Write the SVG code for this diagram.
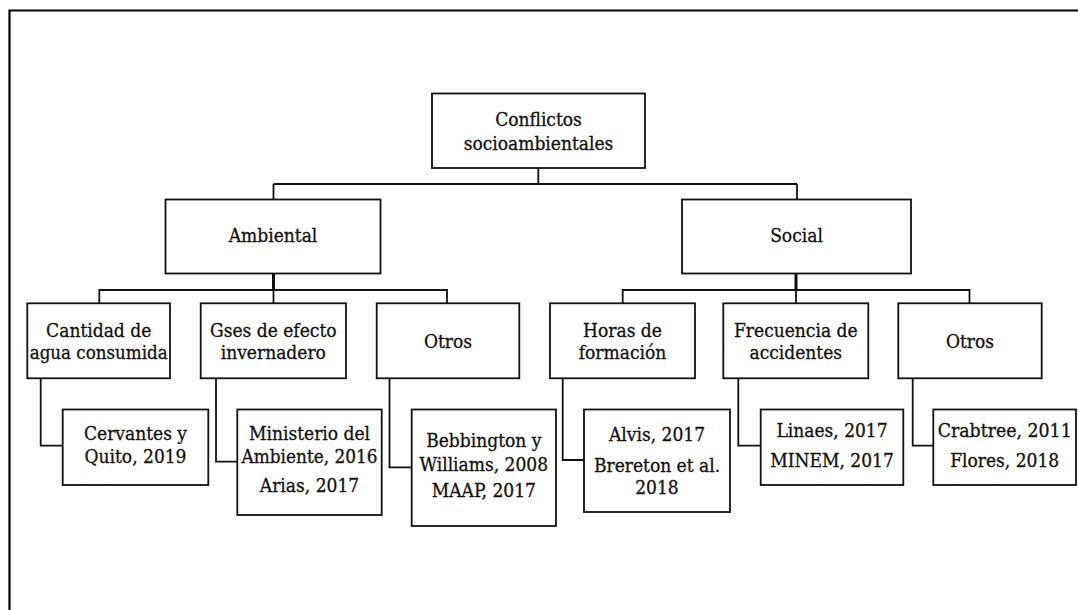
<svg xmlns="http://www.w3.org/2000/svg" width="1078" height="610" viewBox="0 0 1078 610">
  <style>
    .box { fill: #ffffff; stroke: #111111; stroke-width: 1.8; }
    .lbl { font-family: "DejaVu Serif Condensed", "DejaVu Serif", serif; font-stretch: condensed; font-size: 19px; fill: #111111; stroke: #111111; stroke-width: 0.3; text-anchor: middle; }
    .wire { fill: none; stroke: #111111; stroke-width: 1.8; }
    .trunk { fill: none; stroke: #111111; stroke-width: 3; }
    .frame { fill: none; stroke: #000000; stroke-width: 2.2; }
  </style>

  <rect width="1078" height="610" fill="#ffffff"/>

  <!-- outer page frame -->
  <path class="frame" d="M9.5,612 V10.5 H1080"/>

  <!-- connectors -->
  <g id="connectors">
    <!-- root to first level -->
    <path class="wire" d="M538.3,168 V184 M273.5,184 H797 M273.5,184 V199 M797,184 V199"/>
    <!-- Ambiental branch -->
    <path class="trunk" d="M273.5,273 V290"/>
    <path class="wire" d="M99.3,303 V290 H447 V303 M273.5,290 V303"/>
    <!-- Social branch -->
    <path class="trunk" d="M796,273 V290"/>
    <path class="wire" d="M622.7,303 V290 H969.5 V303 M796,290 V303"/>
    <!-- elbows to reference boxes -->
    <path class="wire" d="M40.7,378 V445.7 H62.7"/>
    <path class="wire" d="M216,378 V461.7 H237.3"/>
    <path class="wire" d="M389.5,378 V467.3 H411.7"/>
    <path class="wire" d="M562.7,378 V460 H584"/>
    <path class="wire" d="M738.3,378 V445.7 H760.7"/>
    <path class="wire" d="M912.7,378 V445.7 H933.3"/>
  </g>

  <!-- root -->
  <g id="root">
    <rect class="box" x="432" y="93.5" width="213" height="74.5"/>
    <text class="lbl" x="538.5" y="126">Conflictos</text>
    <text class="lbl" x="538.5" y="150">socioambientales</text>
  </g>

  <!-- first level -->
  <g id="ambiental">
    <rect class="box" x="165.5" y="199.5" width="215" height="74"/>
    <text class="lbl" x="273" y="242">Ambiental</text>
  </g>
  <g id="social">
    <rect class="box" x="682" y="199.5" width="229" height="74"/>
    <text class="lbl" x="796.5" y="241.5">Social</text>
  </g>

  <!-- second level -->
  <g id="cantidad-agua">
    <rect class="box" x="27.3" y="303.3" width="142.7" height="75"/>
    <text class="lbl" x="98.7" y="337">Cantidad de</text>
    <text class="lbl" x="98.7" y="359" textLength="138" lengthAdjust="spacingAndGlyphs">agua consumida</text>
  </g>
  <g id="gases">
    <rect class="box" x="200.7" y="303.3" width="145.3" height="75"/>
    <text class="lbl" x="273.3" y="337">Gses de efecto</text>
    <text class="lbl" x="273.3" y="359">invernadero</text>
  </g>
  <g id="otros-ambiental">
    <rect class="box" x="376.7" y="303.3" width="142.6" height="75"/>
    <text class="lbl" x="448" y="347.5">Otros</text>
  </g>
  <g id="horas">
    <rect class="box" x="550" y="303.3" width="145" height="75"/>
    <text class="lbl" x="622.5" y="336.5">Horas de</text>
    <text class="lbl" x="622.5" y="358.5">formación</text>
  </g>
  <g id="frecuencia">
    <rect class="box" x="723.3" y="303.3" width="145" height="75"/>
    <text class="lbl" x="795.8" y="336.5">Frecuencia de</text>
    <text class="lbl" x="795.8" y="358.5">accidentes</text>
  </g>
  <g id="otros-social">
    <rect class="box" x="898.3" y="303.3" width="143.4" height="75"/>
    <text class="lbl" x="970" y="347.5">Otros</text>
  </g>

  <!-- references -->
  <g id="ref-cervantes">
    <rect class="box" x="62.7" y="409.5" width="145.6" height="75.5"/>
    <text class="lbl" x="135.5" y="439.5">Cervantes y</text>
    <text class="lbl" x="135.5" y="463">Quito, 2019</text>
  </g>
  <g id="ref-ministerio">
    <rect class="box" x="237.3" y="409.5" width="144.4" height="105.5"/>
    <text class="lbl" x="309.5" y="440">Ministerio del</text>
    <text class="lbl" x="309.5" y="463" textLength="136" lengthAdjust="spacingAndGlyphs">Ambiente, 2016</text>
    <text class="lbl" x="309.5" y="491.5">Arias, 2017</text>
  </g>
  <g id="ref-bebbington">
    <rect class="box" x="411.7" y="409.5" width="144.3" height="116.5"/>
    <text class="lbl" x="483.8" y="446.5">Bebbington y</text>
    <text class="lbl" x="483.8" y="470.5">Williams, 2008</text>
    <text class="lbl" x="483.8" y="496.5">MAAP, 2017</text>
  </g>
  <g id="ref-alvis">
    <rect class="box" x="584" y="409.5" width="146" height="102.5"/>
    <text class="lbl" x="657" y="440.5">Alvis, 2017</text>
    <text class="lbl" x="657" y="472">Brereton et al.</text>
    <text class="lbl" x="657" y="493.5">2018</text>
  </g>
  <g id="ref-linaes">
    <rect class="box" x="760.7" y="409.5" width="142.6" height="75.5"/>
    <text class="lbl" x="832" y="436.5">Linaes, 2017</text>
    <text class="lbl" x="832" y="467">MINEM, 2017</text>
  </g>
  <g id="ref-crabtree">
    <rect class="box" x="933.3" y="409.5" width="142.7" height="75.5"/>
    <text class="lbl" x="1004.7" y="436.5" textLength="134" lengthAdjust="spacingAndGlyphs">Crabtree, 2011</text>
    <text class="lbl" x="1004.7" y="467">Flores, 2018</text>
  </g>
</svg>
